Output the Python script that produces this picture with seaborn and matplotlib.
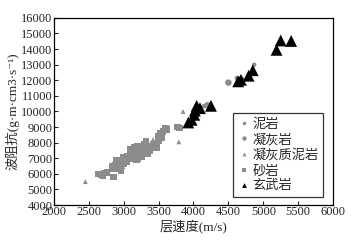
import matplotlib
matplotlib.use("Agg")
import matplotlib.pyplot as plt
import seaborn as sns
import pandas as pd

sns.set_style("ticks")
plt.rcParams['font.family'] = ['Liberation Serif', 'Noto Sans CJK SC', 'DejaVu Sans']

categories = ['泥岩', '凝灰岩', '凝灰质泥岩', '砂岩', '玄武岩']

mud_x = [4150, 4870, 4620, 4100]
mud_y = [10350, 13000, 12150, 10250]

tuff_x = [4500, 4200, 4680]
tuff_y = [11850, 10400, 12050]

tuffmud_x = [2450, 2740, 3420, 3850, 3790, 2990]
tuffmud_y = [5500, 6150, 8200, 10000, 8050, 6450]

sand_x = [2640, 2680, 2700, 2760, 2720, 2850, 2830, 2850, 2880, 2900, 2920, 2950, 2980, 3000,
          3000, 3030, 3050, 3070, 3100, 3100, 3130, 3150, 3170, 3180, 3200, 3200, 3220, 3230,
          3250, 3260, 3280, 3300, 3300, 3320, 3340, 3350, 3380, 3400, 3420, 3440, 3460, 3480,
          3500, 3500, 3520, 3540, 3560, 3600, 3620, 3770, 3800, 3100, 3150, 3050, 2950, 2880,
          2960, 3180, 3250, 3320, 3360, 3200, 3000, 2900]
sand_y = [6000, 5950, 5900, 6100, 6050, 5800, 6500, 6350, 6550, 6400, 6700, 6500, 6800, 6650,
          7000, 6900, 6750, 7100, 6950, 7200, 7050, 7300, 7150, 7500, 7000, 7350, 7600, 7200,
          7450, 7100, 7700, 7400, 7900, 7600, 7300, 7800, 7500, 7750, 7900, 7650, 7850, 7700,
          8100, 8400, 8600, 8300, 8700, 8900, 8850, 9000, 8950, 7600, 7700, 7150, 6900, 6300,
          6200, 6900, 7800, 8100, 7700, 7800, 7050, 6850]

basalt_x = [5190, 5250, 5400, 4640, 4680, 4790, 4850, 4045, 4093, 4251, 4012, 3973, 3926, 4020]
basalt_y = [13950, 14550, 14520, 11930, 12030, 12290, 12640, 10360, 10210, 10360, 9785, 9464, 9293, 10050]

xs = [mud_x, tuff_x, tuffmud_x, sand_x, basalt_x]
ys = [mud_y, tuff_y, tuffmud_y, sand_y, basalt_y]
rows = []
for c, xx, yy in zip(categories, xs, ys):
    for a, b in zip(xx, yy):
        rows.append({'x': a, 'y': b, 'type': c})
df = pd.DataFrame(rows)

palette = {'泥岩': '#8c8c8c', '凝灰岩': '#8c8c8c', '凝灰质泥岩': '#8c8c8c', '砂岩': '#8c8c8c', '玄武岩': '#000000'}
markers = {'泥岩': 'o', '凝灰岩': 'o', '凝灰质泥岩': '^', '砂岩': 's', '玄武岩': '^'}
sizes = {'泥岩': 10, '凝灰岩': 22, '凝灰质泥岩': 12, '砂岩': 22, '玄武岩': 72}
legend_ms = {'泥岩': 2.5, '凝灰岩': 3.2, '凝灰质泥岩': 2.8, '砂岩': 3.2, '玄武岩': 3.5}

fig = plt.figure(figsize=(3.62, 2.45), dpi=100)
ax = fig.add_axes([0.149, 0.163, 0.771, 0.764])
sns.scatterplot(data=df, x='x', y='y', hue='type', style='type', size='type',
                hue_order=categories, style_order=categories, size_order=categories,
                palette=palette, markers=markers, sizes=sizes, linewidth=0, ax=ax)

ax.set_xlim(2000, 6000)
ax.set_ylim(4000, 16000)
ax.set_xticks(range(2000, 6001, 500))
ax.set_yticks(range(4000, 16001, 1000))
ax.tick_params(direction='in', length=3, width=0.8, labelsize=9, pad=1)
for s in ax.spines.values():
    s.set_linewidth(0.9)
    s.set_color('black')
ax.set_xlabel('层速度(m/s)', fontsize=9.5, labelpad=1)
ax.set_ylabel('波阻抗(g·m·cm3·s⁻¹)', fontsize=9.5, labelpad=1)

handles, labels = ax.get_legend_handles_labels()
for h, l in zip(handles, labels):
    try:
        h.set_markersize(legend_ms.get(l, 3))
    except AttributeError:
        pass
leg = ax.legend(handles, labels, loc='lower right', bbox_to_anchor=(0.965, 0.043),
                borderaxespad=0, frameon=True, fancybox=False, edgecolor='black', fontsize=9.5,
                handletextpad=0.2, borderpad=0.35, labelspacing=0.22, handlelength=0.9)
leg.get_frame().set_linewidth(0.9)

fig.savefig('out.png', dpi=100)
